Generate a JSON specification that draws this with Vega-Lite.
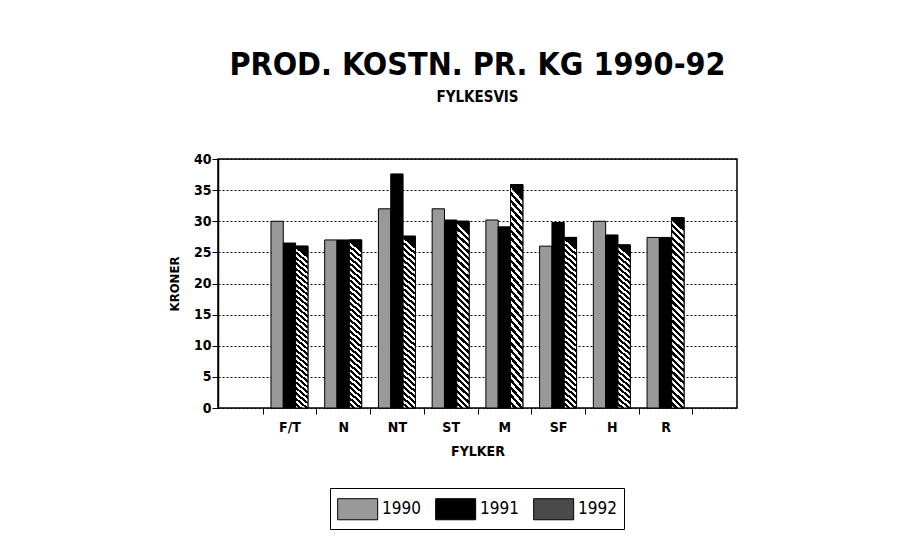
{
  "$schema": "https://vega.github.io/schema/vega-lite/v6.json",
  "width": 519,
  "height": 249,
  "autosize": "none",
  "padding": {"left": 218, "top": 159, "right": 178, "bottom": 129},
  "background": "white",
  "title": {
    "text": "PROD. KOSTN. PR. KG 1990-92",
    "subtitle": "FYLKESVIS",
    "fontSize": 32,
    "subtitleFontSize": 15,
    "font": "'Liberation Sans Narrow', 'DejaVu Sans Condensed', sans-serif",
    "subtitleFont": "'Liberation Sans Narrow', 'DejaVu Sans Condensed', sans-serif",
    "fontWeight": "bold",
    "subtitleFontWeight": "bold",
    "color": "black",
    "subtitleColor": "black",
    "offset": 46,
    "subtitlePadding": 8,
    "anchor": "middle"
  },
  "data": {
    "values": [
      {"fylke": "F/T", "year": "1990", "kr": 30},
      {"fylke": "F/T", "year": "1991", "kr": 26.5},
      {"fylke": "F/T", "year": "1992", "kr": 26},
      {"fylke": "N", "year": "1990", "kr": 27},
      {"fylke": "N", "year": "1991", "kr": 27},
      {"fylke": "N", "year": "1992", "kr": 27},
      {"fylke": "NT", "year": "1990", "kr": 32},
      {"fylke": "NT", "year": "1991", "kr": 37.6},
      {"fylke": "NT", "year": "1992", "kr": 27.6},
      {"fylke": "ST", "year": "1990", "kr": 32},
      {"fylke": "ST", "year": "1991", "kr": 30.2},
      {"fylke": "ST", "year": "1992", "kr": 30},
      {"fylke": "M", "year": "1990", "kr": 30.2},
      {"fylke": "M", "year": "1991", "kr": 29.1},
      {"fylke": "M", "year": "1992", "kr": 35.9},
      {"fylke": "SF", "year": "1990", "kr": 26},
      {"fylke": "SF", "year": "1991", "kr": 29.8},
      {"fylke": "SF", "year": "1992", "kr": 27.4},
      {"fylke": "H", "year": "1990", "kr": 30},
      {"fylke": "H", "year": "1991", "kr": 27.8},
      {"fylke": "H", "year": "1992", "kr": 26.2},
      {"fylke": "R", "year": "1990", "kr": 27.4},
      {"fylke": "R", "year": "1991", "kr": 27.4},
      {"fylke": "R", "year": "1992", "kr": 30.6}
    ]
  },
  "encoding": {
    "x": {
      "field": "fylke",
      "type": "nominal",
      "sort": ["F/T", "N", "NT", "ST", "M", "SF", "H", "R"],
      "scale": {"paddingInner": 0, "paddingOuter": 0.83},
      "axis": {
        "title": "FYLKER",
        "labelAngle": 0,
        "tickBand": "extent",
        "domain": false,
        "ticks": true,
        "tickColor": "black",
        "tickSize": 6,
        "labelColor": "black",
        "labelFontSize": 14,
        "labelFontWeight": "bold",
        "labelPadding": 6,
        "titleFontSize": 14,
        "titleFontWeight": "bold",
        "titleColor": "black",
        "titlePadding": 10
      }
    },
    "xOffset": {
      "field": "year",
      "type": "nominal",
      "scale": {"paddingInner": 0, "paddingOuter": 0.68}
    },
    "y": {
      "field": "kr",
      "type": "quantitative",
      "scale": {"domain": [0, 40]},
      "axis": {
        "title": "KRONER",
        "values": [0, 5, 10, 15, 20, 25, 30, 35, 40],
        "grid": true,
        "gridColor": "black",
        "gridDash": [2, 2],
        "gridWidth": 1,
        "domainColor": "black",
        "domainWidth": 1.5,
        "tickColor": "black",
        "tickSize": 6,
        "labelColor": "black",
        "labelFontSize": 14,
        "labelFontWeight": "bold",
        "labelPadding": 1,
        "titleFontSize": 13,
        "titleFontWeight": "bold",
        "titleColor": "black",
        "titlePadding": 12
      }
    }
  },
  "layer": [
    {
      "mark": {"type": "bar", "stroke": "black", "strokeWidth": 1},
      "encoding": {
        "color": {
          "field": "year",
          "type": "nominal",
          "scale": {"range": ["#999999", "#000000", "#4a4a4a"]},
          "legend": {
            "title": null,
            "orient": "none",
            "legendX": 112,
            "legendY": 329,
            "direction": "horizontal",
            "strokeColor": "black",
            "padding": 7,
            "symbolType": "M-1,-0.79L2,-0.79L2,0.79L-1,0.79Z",
            "symbolSize": 711,
            "symbolStrokeColor": "black",
            "symbolStrokeWidth": 1,
            "symbolOpacity": 1,
            "labelOffset": 17,
            "labelFontSize": 17,
            "labelColor": "black",
            "columnPadding": 12,
            "encode": {
              "symbols": {
                "update": {
                  "stroke": {"value": "black"}
                }
              }
            }
          }
        }
      }
    },
    {
      "transform": [{"filter": "datum.year === '1992'"}],
      "mark": {
        "type": "bar",
        "stroke": "black",
        "strokeWidth": 1,
        "fill": {"gradient": "linear", "x1": 0.063, "y1": 0, "x2": 0, "y2": 1, "stops": [
          {"offset": 0, "color": "#000"}, {"offset": 0.0167, "color": "#000"},
          {"offset": 0.0167, "color": "#fff"}, {"offset": 0.0333, "color": "#fff"},
          {"offset": 0.0333, "color": "#000"}, {"offset": 0.05, "color": "#000"},
          {"offset": 0.05, "color": "#fff"}, {"offset": 0.0667, "color": "#fff"},
          {"offset": 0.0667, "color": "#000"}, {"offset": 0.0833, "color": "#000"},
          {"offset": 0.0833, "color": "#fff"}, {"offset": 0.1, "color": "#fff"},
          {"offset": 0.1, "color": "#000"}, {"offset": 0.1167, "color": "#000"},
          {"offset": 0.1167, "color": "#fff"}, {"offset": 0.1333, "color": "#fff"},
          {"offset": 0.1333, "color": "#000"}, {"offset": 0.15, "color": "#000"},
          {"offset": 0.15, "color": "#fff"}, {"offset": 0.1667, "color": "#fff"},
          {"offset": 0.1667, "color": "#000"}, {"offset": 0.1833, "color": "#000"},
          {"offset": 0.1833, "color": "#fff"}, {"offset": 0.2, "color": "#fff"},
          {"offset": 0.2, "color": "#000"}, {"offset": 0.2167, "color": "#000"},
          {"offset": 0.2167, "color": "#fff"}, {"offset": 0.2333, "color": "#fff"},
          {"offset": 0.2333, "color": "#000"}, {"offset": 0.25, "color": "#000"},
          {"offset": 0.25, "color": "#fff"}, {"offset": 0.2667, "color": "#fff"},
          {"offset": 0.2667, "color": "#000"}, {"offset": 0.2833, "color": "#000"},
          {"offset": 0.2833, "color": "#fff"}, {"offset": 0.3, "color": "#fff"},
          {"offset": 0.3, "color": "#000"}, {"offset": 0.3167, "color": "#000"},
          {"offset": 0.3167, "color": "#fff"}, {"offset": 0.3333, "color": "#fff"},
          {"offset": 0.3333, "color": "#000"}, {"offset": 0.35, "color": "#000"},
          {"offset": 0.35, "color": "#fff"}, {"offset": 0.3667, "color": "#fff"},
          {"offset": 0.3667, "color": "#000"}, {"offset": 0.3833, "color": "#000"},
          {"offset": 0.3833, "color": "#fff"}, {"offset": 0.4, "color": "#fff"},
          {"offset": 0.4, "color": "#000"}, {"offset": 0.4167, "color": "#000"},
          {"offset": 0.4167, "color": "#fff"}, {"offset": 0.4333, "color": "#fff"},
          {"offset": 0.4333, "color": "#000"}, {"offset": 0.45, "color": "#000"},
          {"offset": 0.45, "color": "#fff"}, {"offset": 0.4667, "color": "#fff"},
          {"offset": 0.4667, "color": "#000"}, {"offset": 0.4833, "color": "#000"},
          {"offset": 0.4833, "color": "#fff"}, {"offset": 0.5, "color": "#fff"},
          {"offset": 0.5, "color": "#000"}, {"offset": 0.5167, "color": "#000"},
          {"offset": 0.5167, "color": "#fff"}, {"offset": 0.5333, "color": "#fff"},
          {"offset": 0.5333, "color": "#000"}, {"offset": 0.55, "color": "#000"},
          {"offset": 0.55, "color": "#fff"}, {"offset": 0.5667, "color": "#fff"},
          {"offset": 0.5667, "color": "#000"}, {"offset": 0.5833, "color": "#000"},
          {"offset": 0.5833, "color": "#fff"}, {"offset": 0.6, "color": "#fff"},
          {"offset": 0.6, "color": "#000"}, {"offset": 0.6167, "color": "#000"},
          {"offset": 0.6167, "color": "#fff"}, {"offset": 0.6333, "color": "#fff"},
          {"offset": 0.6333, "color": "#000"}, {"offset": 0.65, "color": "#000"},
          {"offset": 0.65, "color": "#fff"}, {"offset": 0.6667, "color": "#fff"},
          {"offset": 0.6667, "color": "#000"}, {"offset": 0.6833, "color": "#000"},
          {"offset": 0.6833, "color": "#fff"}, {"offset": 0.7, "color": "#fff"},
          {"offset": 0.7, "color": "#000"}, {"offset": 0.7167, "color": "#000"},
          {"offset": 0.7167, "color": "#fff"}, {"offset": 0.7333, "color": "#fff"},
          {"offset": 0.7333, "color": "#000"}, {"offset": 0.75, "color": "#000"},
          {"offset": 0.75, "color": "#fff"}, {"offset": 0.7667, "color": "#fff"},
          {"offset": 0.7667, "color": "#000"}, {"offset": 0.7833, "color": "#000"},
          {"offset": 0.7833, "color": "#fff"}, {"offset": 0.8, "color": "#fff"},
          {"offset": 0.8, "color": "#000"}, {"offset": 0.8167, "color": "#000"},
          {"offset": 0.8167, "color": "#fff"}, {"offset": 0.8333, "color": "#fff"},
          {"offset": 0.8333, "color": "#000"}, {"offset": 0.85, "color": "#000"},
          {"offset": 0.85, "color": "#fff"}, {"offset": 0.8667, "color": "#fff"},
          {"offset": 0.8667, "color": "#000"}, {"offset": 0.8833, "color": "#000"},
          {"offset": 0.8833, "color": "#fff"}, {"offset": 0.9, "color": "#fff"},
          {"offset": 0.9, "color": "#000"}, {"offset": 0.9167, "color": "#000"},
          {"offset": 0.9167, "color": "#fff"}, {"offset": 0.9333, "color": "#fff"},
          {"offset": 0.9333, "color": "#000"}, {"offset": 0.95, "color": "#000"},
          {"offset": 0.95, "color": "#fff"}, {"offset": 0.9667, "color": "#fff"},
          {"offset": 0.9667, "color": "#000"}, {"offset": 0.9833, "color": "#000"},
          {"offset": 0.9833, "color": "#fff"}, {"offset": 1, "color": "#fff"}
        ]}
      }
    }
  ],
  "config": {
    "font": "'Liberation Sans Narrow', 'DejaVu Sans Condensed', sans-serif",
    "view": {"stroke": "black", "strokeWidth": 1.5}
  }
}
